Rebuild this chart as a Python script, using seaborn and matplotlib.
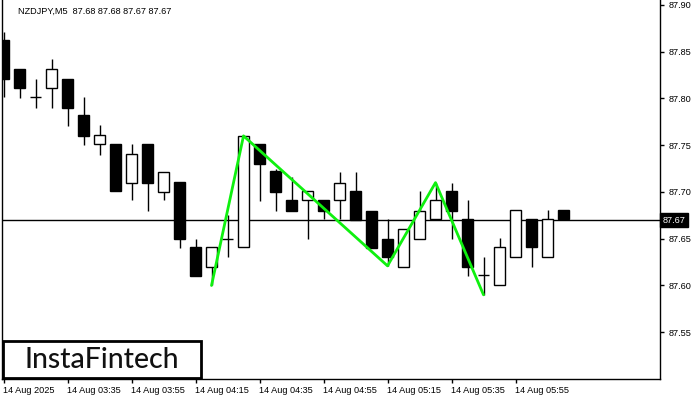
import matplotlib
matplotlib.use("Agg")
import matplotlib.pyplot as plt
import matplotlib.transforms as mtransforms
from matplotlib.patches import Rectangle
import seaborn as sns
import pandas as pd

# ---- data (NZDJPY M5 candles) ----
opens  = [87.862, 87.832, 87.802, 87.811, 87.821, 87.782, 87.751, 87.751, 87.710, 87.751,
          87.700, 87.711, 87.641, 87.620, 87.650, 87.641, 87.751, 87.722, 87.691, 87.691,
          87.691, 87.691, 87.701, 87.680, 87.650, 87.620, 87.650, 87.671, 87.701, 87.671,
          87.611, 87.600, 87.630, 87.671, 87.630, 87.681]
highs  = [87.871, 87.832, 87.821, 87.842, 87.821, 87.802, 87.772, 87.751, 87.751, 87.751,
          87.721, 87.711, 87.650, 87.641, 87.675, 87.760, 87.751, 87.725, 87.716, 87.701,
          87.691, 87.721, 87.721, 87.680, 87.671, 87.660, 87.701, 87.710, 87.710, 87.691,
          87.630, 87.651, 87.681, 87.671, 87.681, 87.681]
lows   = [87.802, 87.801, 87.790, 87.790, 87.771, 87.750, 87.740, 87.701, 87.691, 87.680,
          87.691, 87.640, 87.610, 87.600, 87.630, 87.641, 87.690, 87.680, 87.680, 87.650,
          87.671, 87.671, 87.670, 87.640, 87.621, 87.620, 87.650, 87.671, 87.650, 87.610,
          87.590, 87.600, 87.630, 87.620, 87.630, 87.671]
closes = [87.821, 87.811, 87.802, 87.832, 87.790, 87.760, 87.761, 87.701, 87.741, 87.710,
          87.721, 87.650, 87.610, 87.641, 87.650, 87.760, 87.730, 87.700, 87.680, 87.701,
          87.680, 87.710, 87.670, 87.640, 87.630, 87.660, 87.680, 87.691, 87.680, 87.620,
          87.611, 87.641, 87.681, 87.641, 87.671, 87.671]

tick_idx = [0, 4, 8, 12, 16, 20, 24, 28, 32]
tick_labels = ["14 Aug 2025", "14 Aug 03:35", "14 Aug 03:55", "14 Aug 04:15",
               "14 Aug 04:35", "14 Aug 04:55", "14 Aug 05:15", "14 Aug 05:35",
               "14 Aug 05:55"]
y_ticks = [87.55, 87.60, 87.65, 87.70, 87.75, 87.80, 87.85, 87.90]
y_tick_labels = ["87.55", "87.60", "87.65", "87.70", "87.75", "87.80", "87.85", "87.90"]

pattern_idx = [13, 15, 24, 27, 30]
pattern_price = [87.600, 87.760, 87.621, 87.710, 87.590]

last_price = 87.67
last_label = "87.67"
header = "NZDJPY,M5  87.68 87.68 87.67 87.67"
logo = "InstaFintech"

# ---- style ----
sns.set_style("white")
plt.rcParams['font.family'] = ['Liberation Sans', 'DejaVu Sans']
FS = 6.6

fig = plt.figure(figsize=(7, 4), dpi=100)
ax = fig.add_axes([2 / 700, 1 - 379 / 400, 658 / 700, 379 / 400])

df = pd.DataFrame({"i": range(len(opens)), "o": opens, "h": highs, "l": lows, "c": closes})
W = 0.69

# wicks
ax.vlines(df["i"], df["l"], df["h"], color="black", lw=1, zorder=2)
for _, r in df.iterrows():
    if abs(r.c - r.o) < 1e-9:
        ax.hlines(r.o, r.i - W / 2, r.i + W / 2, color="black", lw=1, zorder=3)
    else:
        up = r.c > r.o
        ax.bar(r.i, abs(r.c - r.o), bottom=min(r.o, r.c), width=W,
               color="white" if up else "black", edgecolor="black", lw=1, zorder=3)

# bid line
ax.axhline(last_price, color="black", lw=1, zorder=1)

# pattern line
pat = pd.DataFrame({"x": pattern_idx, "y": pattern_price})
sns.lineplot(data=pat, x="x", y="y", ax=ax, color="#0ff00f", lw=2, zorder=5,
             sort=False, legend=False)

ax.set_xlim(-0.094, 41.03)
ax.set_ylim(87.50, 87.9053)
ax.set_xlabel("")
ax.set_ylabel("")

ax.set_xticks(tick_idx)
ax.set_xticklabels(tick_labels, ha="left")
ax.yaxis.tick_right()
ax.set_yticks(y_ticks)
ax.set_yticklabels(y_tick_labels)
ax.tick_params(axis="x", direction="out", length=3, width=1, labelsize=FS, pad=2,
               colors="black", bottom=True)
ax.tick_params(axis="y", direction="out", length=3, width=1, labelsize=FS, pad=3,
               colors="black", right=True, left=False)
offset = mtransforms.ScaledTranslation(-1 / 100, 0, fig.dpi_scale_trans)
for lbl in ax.get_xticklabels():
    lbl.set_transform(lbl.get_transform() + offset)

for s in ["left", "bottom", "right"]:
    ax.spines[s].set_visible(True)
    ax.spines[s].set_color("black")
    ax.spines[s].set_linewidth(1)
ax.spines["top"].set_visible(False)
ax.grid(False)

# current price tag
trans = mtransforms.blended_transform_factory(ax.transAxes, ax.transData)
ax.text(1.004, last_price, last_label, transform=trans, color="white", fontsize=FS,
        va="center", ha="left", clip_on=False,
        bbox=dict(boxstyle="square,pad=0.3", fc="black", ec="black"))

# header
fig.text(18 / 700, 1 - 11 / 400, header, fontsize=FS, va="center", ha="left", color="black")

# logo
fig.patches.append(Rectangle((3 / 700, 1 - 378 / 400), 198 / 700, 37 / 400,
                             transform=fig.transFigure, facecolor="white",
                             edgecolor="black", lw=2, zorder=10))
fig.text(102 / 700, 1 - 360 / 400, logo, fontsize=20.5, family=["Lato", "DejaVu Sans"],
         fontweight="medium", va="center", ha="center", color="#111111", zorder=11)

fig.savefig("out.png", dpi=100, facecolor="white")
